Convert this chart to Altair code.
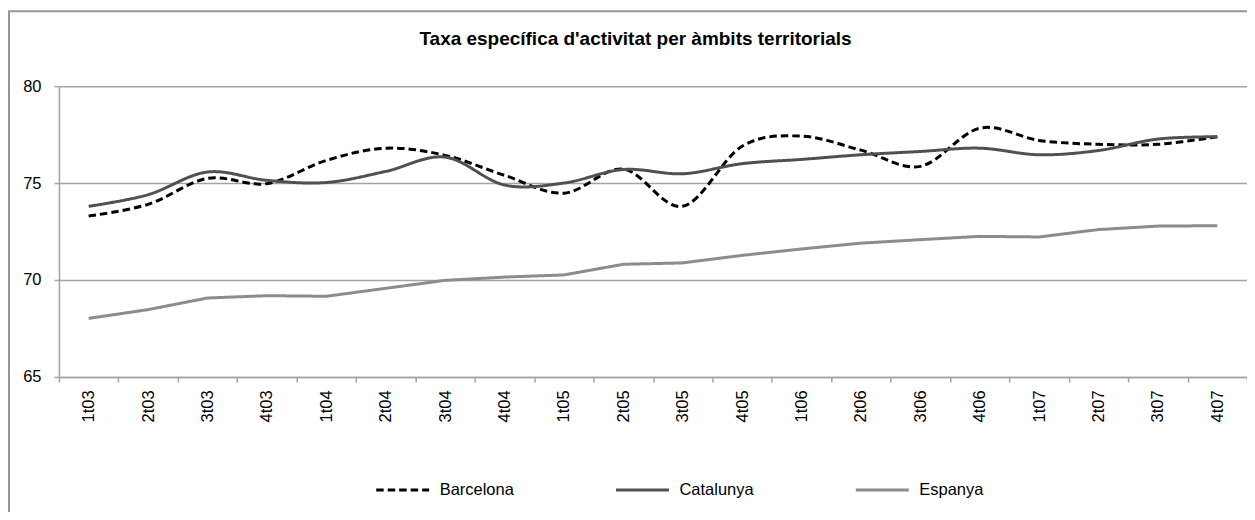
import altair as alt
import pandas as pd

periods = ["1t03", "2t03", "3t03", "4t03", "1t04", "2t04", "3t04", "4t04",
           "1t05", "2t05", "3t05", "4t05", "1t06", "2t06", "3t06", "4t06",
           "1t07", "2t07", "3t07", "4t07"]
barcelona = [73.3, 73.9, 75.24, 74.97, 76.17, 76.8, 76.43, 75.4, 74.48, 75.72,
             73.8, 76.9, 77.42, 76.7, 75.86, 77.83, 77.2, 77.0, 77.0, 77.39]
catalunya = [73.8, 74.4, 75.57, 75.14, 75.03, 75.6, 76.34, 74.9, 75.0, 75.7,
             75.48, 76.0, 76.22, 76.46, 76.63, 76.8, 76.46, 76.68, 77.27, 77.39]
espanya = [68.02, 68.47, 69.07, 69.19, 69.16, 69.57, 69.98, 70.15, 70.26, 70.81,
           70.88, 71.27, 71.6, 71.9, 72.08, 72.25, 72.22, 72.6, 72.78, 72.8]
series = ["Barcelona", "Catalunya", "Espanya"]
colors = ["#000000", "#505050", "#8c8c8c"]
dashes = [[7.5, 4], [1, 0], [1, 0]]
y_ticks = [65, 70, 75, 80]
title_text = "Taxa específica d'activitat per àmbits territorials"

FONT = "Liberation Sans"
GRAY = "#a3a3a3"

rows = []
for name, vals in zip(series, [barcelona, catalunya, espanya]):
    for p, v in zip(periods, vals):
        rows.append({"periode": p, "valor": v, "ambit": name})
df = pd.DataFrame(rows)

legend = alt.Legend(
    title=None, orient="none", legendX=316, legendY=376, direction="horizontal",
    symbolType="stroke", symbolSize=2809, symbolStrokeWidth=3,
    labelFont=FONT, labelFontSize=16.5, labelColor="#000000",
    labelOffset=9, columnPadding=95, padding=0,
)

x_enc = alt.X(
    "periode:N", sort=periods, bandPosition=0.5,
    scale=alt.Scale(type="band", paddingInner=0, paddingOuter=0),
    axis=alt.Axis(title=None, labelAngle=-90, labelAlign="right", labelBaseline="middle",
                  tickBand="extent", tickSize=5, labelPadding=8, grid=False,
                  labelFont=FONT, labelFontSize=16.5, labelColor="#000000",
                  domainColor=GRAY, tickColor=GRAY, domainWidth=1.5, tickWidth=1.5),
)
y_enc = alt.Y(
    "valor:Q",
    scale=alt.Scale(domain=[65, 80], nice=False, zero=False),
    axis=alt.Axis(title=None, values=y_ticks, grid=True, gridColor=GRAY, gridWidth=1.5,
                  tickSize=5, labelPadding=13, labelFont=FONT, labelFontSize=16.5,
                  labelColor="#000000", domainColor=GRAY, tickColor=GRAY,
                  domainWidth=1.5, tickWidth=1.5),
)
color_enc = alt.Color("ambit:N", scale=alt.Scale(domain=series, range=colors), legend=legend)
dash_enc = alt.StrokeDash("ambit:N", scale=alt.Scale(domain=series, range=dashes), legend=legend)

base = alt.Chart(df)

smooth = base.transform_filter(
    alt.FieldOneOfPredicate(field="ambit", oneOf=["Barcelona", "Catalunya"])
).mark_line(interpolate="cardinal", strokeWidth=3, strokeCap="butt").encode(
    x=x_enc, y=y_enc, color=color_enc, strokeDash=dash_enc
)

straight = base.transform_filter(
    alt.FieldEqualPredicate(field="ambit", equal="Espanya")
).mark_line(interpolate="linear", strokeWidth=3, strokeCap="butt").encode(
    x=x_enc, y=y_enc, color=color_enc, strokeDash=dash_enc
)

border = alt.Chart(pd.DataFrame({"k": [0]})).mark_rect(
    filled=False, stroke="#959595", strokeWidth=2
).encode(
    x=alt.value(-50), x2=alt.value(1230), y=alt.value(-75), y2=alt.value(470)
)

title = alt.Chart(pd.DataFrame({"t": [title_text]})).mark_text(
    font=FONT, fontSize=19, fontWeight="bold", color="#000000",
    align="center", baseline="alphabetic"
).encode(text="t:N", x=alt.value(577), y=alt.value(-41))

chart = alt.layer(border, smooth, straight, title).properties(
    width=1189, height=291, autosize="none",
    padding={"left": 51, "top": 78, "right": 0, "bottom": 135},
    background="#ffffff",
).configure_view(stroke="transparent")

chart.save("out.html", embed_options={"renderer": "svg", "actions": False})
